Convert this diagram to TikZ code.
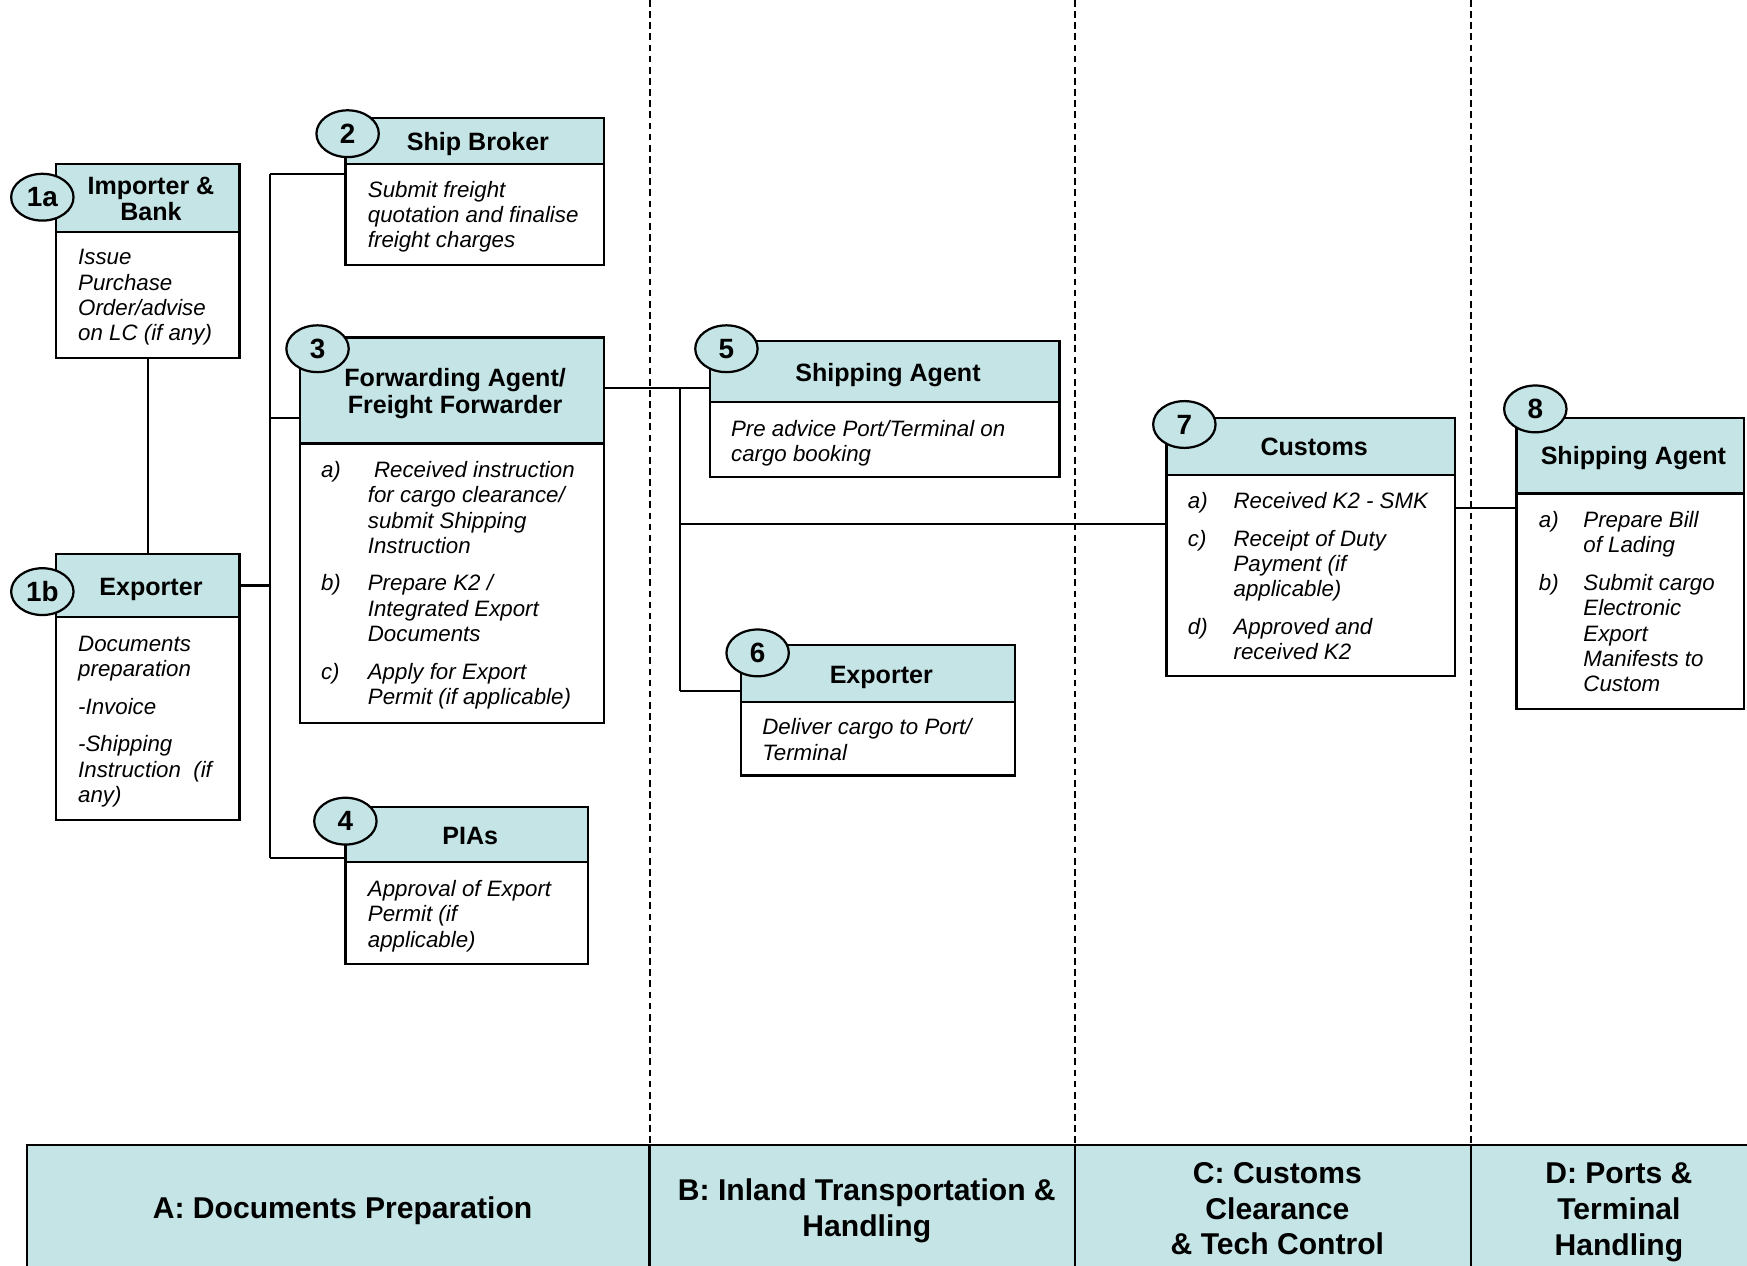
\documentclass[tikz,border=0pt]{standalone}
\usepackage{fontspec}
\setmainfont{Liberation Sans}
\usetikzlibrary{shapes.geometric}
\definecolor{hcol}{RGB}{196,228,230}
\newcommand{\hdrfont}{\fontsize{22.5}{24}\selectfont\bfseries}
\newcommand{\bodyfont}{\fontsize{20}{22.7}\selectfont\itshape}
\newcommand{\numfont}{\fontsize{25}{25}\selectfont\bfseries}
\newcommand{\bandfont}{\fontsize{27}{32}\selectfont\bfseries}
\newcommand{\procbox}[8]{%
  \node[hdr, minimum width={#3-#2}, minimum height={#5-#4}] (#1h) at ({(#2+#3)/2},{(#4+#5)/2}) {};
  \node[bodybox, minimum width={#3-#2}, minimum height={#6-#5}] (#1b) at ({(#2+#3)/2},{(#5+#6)/2}) {};
  \node[hdrtxt] (#1t) at ({(#2+#3)/2+3},{(#4+#5)/2+#8}) {#7};
}
\newcommand{\lbl}[2]{\makebox[#1pt][l]{#2}}
\begin{document}
\begin{tikzpicture}[x=1pt,y=-1pt,
  hdr/.style={draw, line width=2pt, fill=hcol, inner sep=0pt},
  hdrtxt/.style={inner sep=0pt, align=center, font=\hdrfont},
  bodybox/.style={draw, line width=2pt, fill=white, inner sep=0pt},
  txt/.style={anchor=north west, inner sep=0pt, align=left, font=\bodyfont},
  num/.style={ellipse, draw, line width=2pt, fill=hcol, minimum width=56pt, minimum height=42pt, inner sep=0pt, font=\numfont},
  conn/.style={line width=2pt},
  lane/.style={line width=1.8pt, dash pattern=on 6pt off 4pt},
  band/.style={draw, line width=2pt, fill=hcol, inner sep=0pt, minimum height=112pt},
  bandtxt/.style={inner sep=0pt, align=center, font=\bandfont}]
\clip (0,0) rectangle (1568,1136);
\fill[white] (0,0) rectangle (1568,1136);

% bottom band
\node[band, minimum width=559] (bandA) at (303.5,1084) {};
\node[band, minimum width=382] (bandB) at (774,1084) {};
\node[band, minimum width=355] (bandC) at (1142.5,1084) {};
\node[band, minimum width=266] (bandD) at (1453,1084) {};
\node[bandtxt] (bandAt) at (307.5,1087) {A: Documents Preparation};
\node[bandtxt] (bandBt) at (778,1086.5) {B: Inland Transportation \&\\Handling};
\node[bandtxt] (bandCt) at (1146.5,1085) {C: Customs\\Clearance\\\& Tech Control};
\node[bandtxt] (bandDt) at (1453,1088) {D: Ports \&\\Terminal\\Handling};

% lanes
\coordinate (laneA) at (583,0);
\coordinate (laneB) at (965,0);
\coordinate (laneC) at (1320,0);
\draw[lane] (laneA) -- (laneA |- bandB.north);
\draw[lane] (laneB) -- (laneB |- bandC.north);
\draw[lane] (laneC) -- (laneC |- bandD.north);

% boxes
\procbox{n1a}{50}{215}{147}{208}{321}{Importer \&\\Bank}{1}
\procbox{n1b}{50}{215}{497}{554}{736}{Exporter}{3.5}
\procbox{n2}{310}{542}{106}{147}{238}{Ship Broker}{3}
\procbox{n3}{269}{542}{303}{398}{649}{Forwarding Agent/\\Freight Forwarder}{3}
\procbox{n4}{310}{528}{724}{774}{865}{PIAs}{1}
\procbox{n5}{637}{951}{306}{361}{428}{Shipping Agent}{3}
\procbox{n6}{665}{911}{579}{630}{696}{Exporter}{3.5}
\procbox{n7}{1047}{1306}{375}{426}{607}{Customs}{1}
\procbox{n8}{1361}{1565}{375}{443}{636}{Shipping Agent}{2}

% number ellipses
\node[num] (e1a) at (38,177) {1a};
\node[num] (e1b) at (38,531) {1b};
\node[num] (e2) at (312,120) {2};
\node[num] (e3) at (285,313) {3};
\node[num] (e4) at (310,737) {4};
\node[num] (e5) at (652,313) {5};
\node[num] (e6) at (680,586) {6};
\node[num] (e7) at (1063,381) {7};
\node[num] (e8) at (1378,367) {8};

% body texts
\node[txt] (t1a) at (70,221.5) {\strut Issue\\Purchase\\Order/advise\\on LC (if any)};
\node[txt] (t1b) at (70,568.5) {\strut Documents\\preparation\\[11pt]-Invoice\\[11pt]-Shipping\\Instruction\ \ (if\\any)};
\node[txt] (t2) at (330,161) {\strut Submit freight\\quotation and finalise\\freight charges};
\node[txt] (t3) at (288,412.5) {\strut\lbl{42}{a)}\ Received instruction\\\lbl{42}{}for cargo clearance/\\\lbl{42}{}submit Shipping\\\lbl{42}{}Instruction\\[11pt]\lbl{42}{b)}Prepare K2 /\\\lbl{42}{}Integrated Export\\\lbl{42}{}Documents\\[11pt]\lbl{42}{c)}Apply for Export\\\lbl{42}{}Permit (if applicable)};
\node[txt] (t4) at (330,788.5) {\strut Approval of Export\\Permit (if\\applicable)};
\node[txt] (t5) at (656,375.5) {\strut Pre advice Port/Terminal on\\cargo booking};
\node[txt] (t6) at (684,643.5) {\strut Deliver cargo to Port/\\Terminal};
\node[txt] (t7) at (1066,440.5) {\strut\lbl{41}{a)}Received K2 - SMK\\[11pt]\lbl{41}{c)}Receipt of Duty\\\lbl{41}{}Payment (if\\\lbl{41}{}applicable)\\[11pt]\lbl{41}{d)}Approved and\\\lbl{41}{}received K2};
\node[txt] (t8) at (1381,457.5) {\strut\lbl{40}{a)}Prepare Bill\\\lbl{40}{}of Lading\\[11pt]\lbl{40}{b)}Submit cargo\\\lbl{40}{}Electronic\\\lbl{40}{}Export\\\lbl{40}{}Manifests to\\\lbl{40}{}Custom};

% connectors
\draw[conn] (n1ab.south) -- (n1bh.north);
\coordinate (busT) at (242,156);
\coordinate (j3) at (242,375);
\coordinate (j4) at (242,770);
\draw[conn] (busT) -- (j4);
\draw[conn] (busT) -- (busT -| n2b.west);
\draw[conn] (n1bh.east) -- (n1bh.east -| busT);
\draw[conn] (j3) -- (j3 -| n3h.west);
\draw[conn] (j4) -- (j4 -| n4h.west);
\coordinate (j5) at (610,348);
\coordinate (j6) at (610,620);
\coordinate (j7) at (610,470);
\draw[conn] (j5 -| n3h.east) -- (j5 -| n5h.west);
\draw[conn] (j5) -- (j6);
\draw[conn] (j6) -- (j6 -| n6h.west);
\draw[conn] (j7) -- (j7 -| n7b.west);
\coordinate (j8) at (1330,456);
\draw[conn] (j8 -| n7b.east) -- (j8 -| n8b.west);
\end{tikzpicture}
\end{document}
